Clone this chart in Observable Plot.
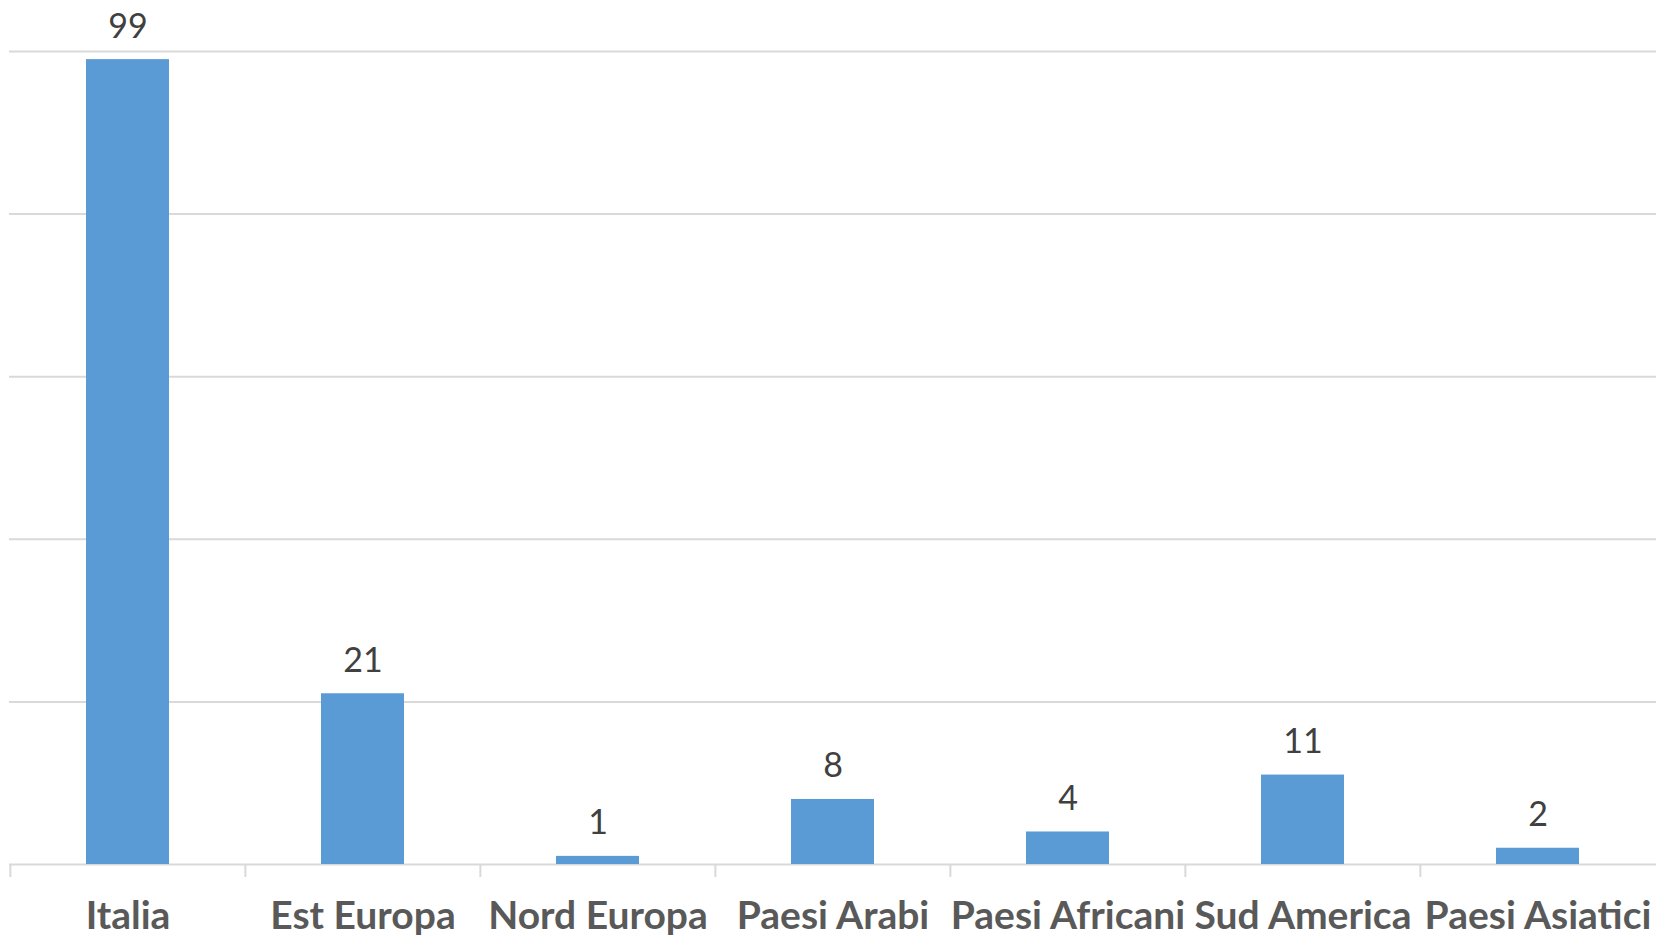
<!DOCTYPE html>
<html>
<head>
<meta charset="utf-8">
<script src="https://cdn.jsdelivr.net/npm/d3@7"></script>
<script src="https://cdn.jsdelivr.net/npm/@observablehq/plot@0.6"></script>
<style>
  html, body { margin: 0; padding: 0; background: #fff; }
  #chart svg { display: block; }
</style>
</head>
<body>
<div id="chart"></div>
<script>
const categories = ["Italia", "Est Europa", "Nord Europa", "Paesi Arabi", "Paesi Africani", "Sud America", "Paesi Asiatici"];
const values = [99, 21, 1, 8, 4, 11, 2];
const gridTicks = [0, 20, 40, 60, 80, 100];

const data = categories.map((c, i) => ({category: c, value: values[i]}));

const W = 1656, H = 940;
const mL = 9, mR = 0, mT = 51, mB = 76;
const step = (W - mL - mR) / categories.length;

const chart = Plot.plot({
  width: W,
  height: H,
  marginLeft: mL,
  marginRight: mR,
  marginTop: mT,
  marginBottom: mB,
  style: {fontFamily: "Lato, 'Open Sans', sans-serif", background: "#fff"},
  x: {domain: categories, paddingInner: 0.645, paddingOuter: 0.3225, label: null},
  y: {domain: [0, 100], axis: null},
  marks: [
    Plot.ruleY(gridTicks, {stroke: "#d9d9d9", strokeWidth: 2}),
    Plot.barY(data, {x: "category", y: "value", fill: "#5b9bd5"}),
    Plot.text(data, {x: "category", y: "value", text: d => String(d.value), lineAnchor: "bottom", dy: -22, fontSize: 34, fill: "#404040"}),
    Plot.axisX({tickSize: 13, text: null, dx: -step / 2, stroke: "#d9d9d9", strokeWidth: 2}),
    Plot.axisX({tickSize: 0, tickPadding: 37, fontSize: 39, fontWeight: "bold", fill: "#595959", label: null})
  ]
});
document.getElementById("chart").appendChild(chart);
</script>
</body>
</html>
